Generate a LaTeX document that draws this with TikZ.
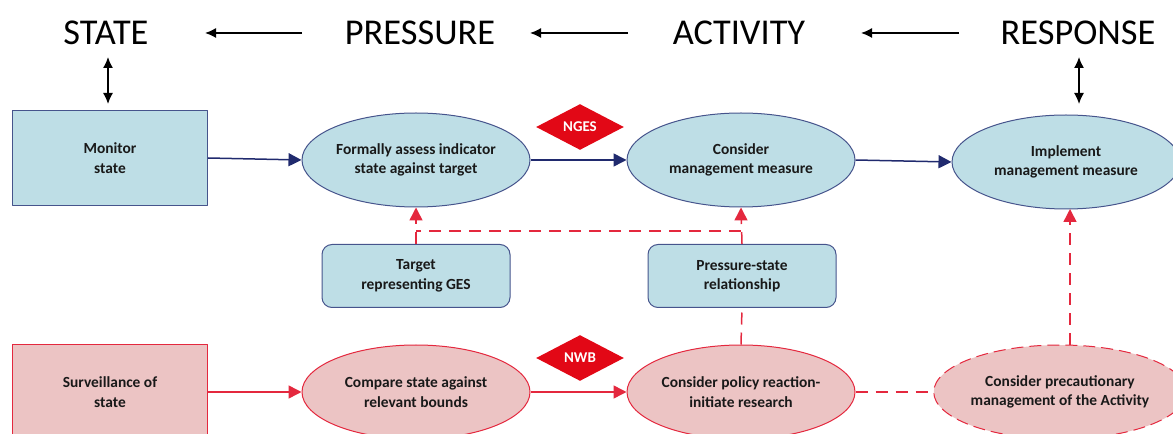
\documentclass[tikz,border=0pt]{standalone}
\usepackage{fontspec}
\setmainfont{Carlito}
\usepackage{tikz}
\usetikzlibrary{arrows.meta,shapes}
\definecolor{boxblue}{RGB}{190,222,230}
\definecolor{edgeblue}{RGB}{70,84,140}
\definecolor{arrowblue}{RGB}{32,42,110}
\definecolor{boxpink}{RGB}{236,196,196}
\definecolor{edgered}{RGB}{228,40,62}
\definecolor{flagred}{RGB}{226,8,22}

\begin{document}
\begin{tikzpicture}[>={Latex[length=11bp,width=10bp]},line join=bevel,
  head/.style={font=\fontsize{36.5}{40}\selectfont},
  txt/.style={font=\fontsize{15.5}{19.5}\selectfont\bfseries,align=center,text=black!90},
  bluebox/.style={txt,draw=edgeblue,fill=boxblue,rectangle,minimum width=195bp,minimum height=95bp},
  blueoval/.style={txt,draw=edgeblue,fill=boxblue,ellipse,inner sep=0pt,minimum width=228bp,minimum height=94bp},
  bluetab/.style={txt,draw=edgeblue,fill=boxblue,rectangle,rounded corners=10bp,minimum width=188bp,minimum height=63bp},
  pinkbox/.style={txt,draw=edgered,fill=boxpink,rectangle,minimum width=195bp,minimum height=95bp},
  pinkoval/.style={txt,draw=edgered,fill=boxpink,ellipse,inner sep=0pt,minimum width=228bp,minimum height=94bp},
  flag/.style={diamond,fill=flagred,text=white,inner sep=0pt,minimum width=88bp,minimum height=46bp,font=\fontsize{15}{16}\selectfont\bfseries},
  blueflow/.style={draw=arrowblue,line width=1.5bp,-{Triangle[length=13bp,width=13bp]}},
  redflow/.style={draw=edgered,line width=1.5bp,-{Triangle[length=13bp,width=13bp]}},
  reddash/.style={draw=edgered,line width=1.5bp,dash pattern=on 12bp off 8bp},
  headarrow/.style={draw=black,line width=1.5bp},
]
  \pgfsetlinewidth{1bp}
  \useasboundingbox (0bp,0bp) rectangle (1173bp,434bp);
%%
  % Node: headings
  \node[head] (state) at (106bp,401bp) {STATE};
  \node[head] (pressure) at (420bp,401bp) {PRESSURE};
  \node[head] (activity) at (739bp,401bp) {ACTIVITY};
  \node[head] (response) at (1078bp,401bp) {RESPONSE};
  \coordinate (stateup) at (108bp,377bp);
  \coordinate (statedn) at (108bp,330bp);
  \coordinate (respup) at (1079bp,377bp);
  \coordinate (respdn) at (1079bp,330bp);
  % Node: monitoring row
  \node[bluebox] (monitor) at (110bp,276bp) {Monitor\\state};
  \node[blueoval] (assess) at (416bp,274bp) {Formally assess indicator\\state against target};
  \node[blueoval] (consider) at (741bp,274bp) {Consider\\management measure};
  \node[blueoval] (implement) at (1066bp,272bp) {Implement\\management measure};
  \node[flag] (nges) at (580bp,307bp) {NGES};
  % Node: middle boxes
  \node[bluetab] (target) at (416bp,158bp) {Target\\representing GES};
  \node[bluetab] (pstate) at (742bp,158bp) {Pressure-state\\relationship};
  % Node: surveillance row
  \node[pinkbox] (surveil) at (110bp,42bp) {Surveillance of\\state};
  \node[pinkoval] (compare) at (416bp,42bp) {Compare state against\\relevant bounds};
  \node[pinkoval] (policy) at (741bp,42bp) {Consider policy reaction-\\initiate research};
  \node[pinkoval,dash pattern=on 12bp off 6bp] (precaution) at (1060bp,42bp) {Consider precautionary\\management of the Activity};
  \node[flag] (nwb) at (580bp,76bp) {NWB};
%
  % Edge: heading arrows
  \draw [headarrow,->] (302bp,401bp) -- (205bp,401bp);
  \draw [headarrow,->] (628bp,401bp) -- (530bp,401bp);
  \draw [headarrow,->] (959bp,401bp) -- (861bp,401bp);
  \draw [headarrow,<->] (stateup) -- (statedn);
  \draw [headarrow,<->] (respup) -- (respdn);
  % Edge: monitor -> assess -> consider -> implement
  \draw [blueflow] (monitor.east) -- (assess.west);
  \draw [blueflow] (assess.east) -- (consider.west);
  \draw [blueflow] (consider.east) -- (implement.west);
  % Edge: surveil -> compare -> policy
  \draw [redflow] (surveil.east) -- (compare.west);
  \draw [redflow] (compare.east) -- (policy.west);
  % Edge: dashed links
  \coordinate (jleft) at (416bp,203bp);
  \coordinate (jright) at (741bp,203bp);
  \draw [reddash] (policy.east) -- (precaution.west);
  \draw [reddash] (policy.north) -- (pstate.south);
  \draw [reddash] (jright) -- (jleft);
  \draw [reddash] (target.north) -- (assess.south);
  \draw [redflow,dash pattern=on 0bp off 0bp] (416bp,196bp) -- (assess.south);
  \draw [reddash] (pstate.north) -- (consider.south);
  \draw [redflow,dash pattern=on 0bp off 0bp] (741bp,196bp) -- (consider.south);
  \draw [reddash] (1070bp,89bp) -- (1070bp,226bp);
  \draw [redflow] (1070bp,212bp) -- (1070bp,225bp);
%
\end{tikzpicture}
\end{document}
